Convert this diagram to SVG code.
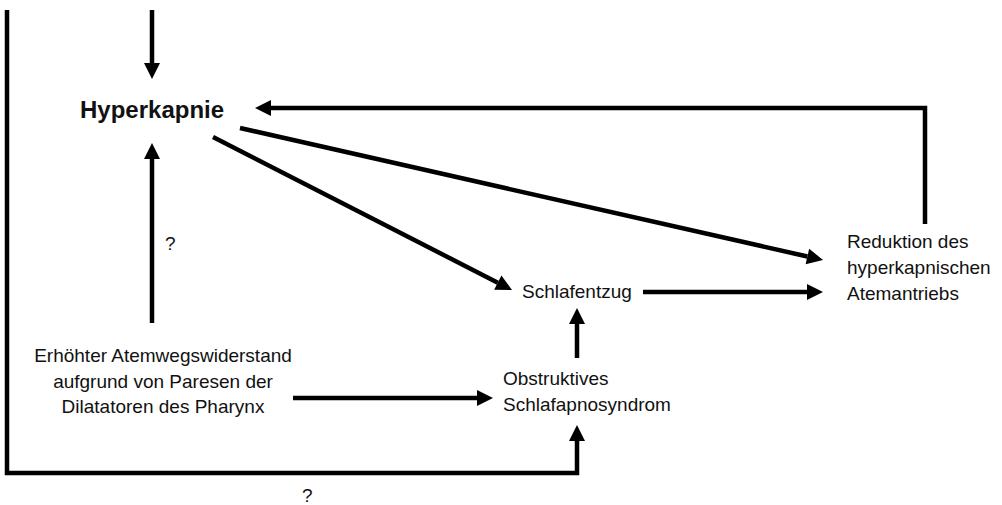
<svg xmlns="http://www.w3.org/2000/svg" width="1002" height="505" viewBox="0 0 1002 505">
<style>
.t{font-family:"Liberation Sans",Arial,sans-serif;font-size:19px;fill:#111}
.b{font-family:"Liberation Sans",Arial,sans-serif;font-size:24px;font-weight:bold;fill:#111}
.c{fill:none;stroke:#000;stroke-width:4.5;stroke-linejoin:miter}
.a{marker-end:url(#ah)}
</style>
<defs>
<marker id="ah" markerUnits="userSpaceOnUse" markerWidth="17" markerHeight="16" refX="0" refY="8" orient="auto" overflow="visible">
<path d="M0,0 L16,8 L0,16 Z" fill="#000"/>
</marker>
</defs>
<rect width="1002" height="505" fill="#fff"/>
<g id="connectors">
<line class="c a" x1="152" y1="10" x2="152" y2="63"/>
<polyline class="c a" points="925,224 925,108 271,108"/>
<line class="c a" x1="240" y1="128" x2="807.4" y2="256.5"/>
<line class="c a" x1="213" y1="137" x2="497.8" y2="282.7"/>
<line class="c a" x1="152" y1="323" x2="152" y2="159"/>
<line class="c a" x1="643" y1="292" x2="807" y2="292"/>
<line class="c a" x1="293" y1="398" x2="477" y2="398"/>
<line class="c a" x1="577" y1="358" x2="577" y2="324"/>
<polyline class="c a" points="7,10 7,473 577,473 577,441"/>
<text class="t" x="165" y="250">?</text>
<text class="t" x="302" y="502">?</text>
</g>
<g id="n-hyperkapnie"><text class="b" x="80" y="118">Hyperkapnie</text></g>
<g id="n-reduktion">
<text class="t" x="847" y="248">Reduktion des</text>
<text class="t" x="847" y="274">hyperkapnischen</text>
<text class="t" x="847" y="300">Atemantriebs</text>
</g>
<g id="n-schlafentzug"><text class="t" x="522" y="298">Schlafentzug</text></g>
<g id="n-osas">
<text class="t" x="503" y="385">Obstruktives</text>
<text class="t" x="503" y="411">Schlafapnosyndrom</text>
</g>
<g id="n-atemweg">
<text class="t" x="163" y="362" text-anchor="middle">Erhöhter Atemwegswiderstand</text>
<text class="t" x="163" y="388" text-anchor="middle">aufgrund von Paresen der</text>
<text class="t" x="163" y="413" text-anchor="middle">Dilatatoren des Pharynx</text>
</g>
</svg>
